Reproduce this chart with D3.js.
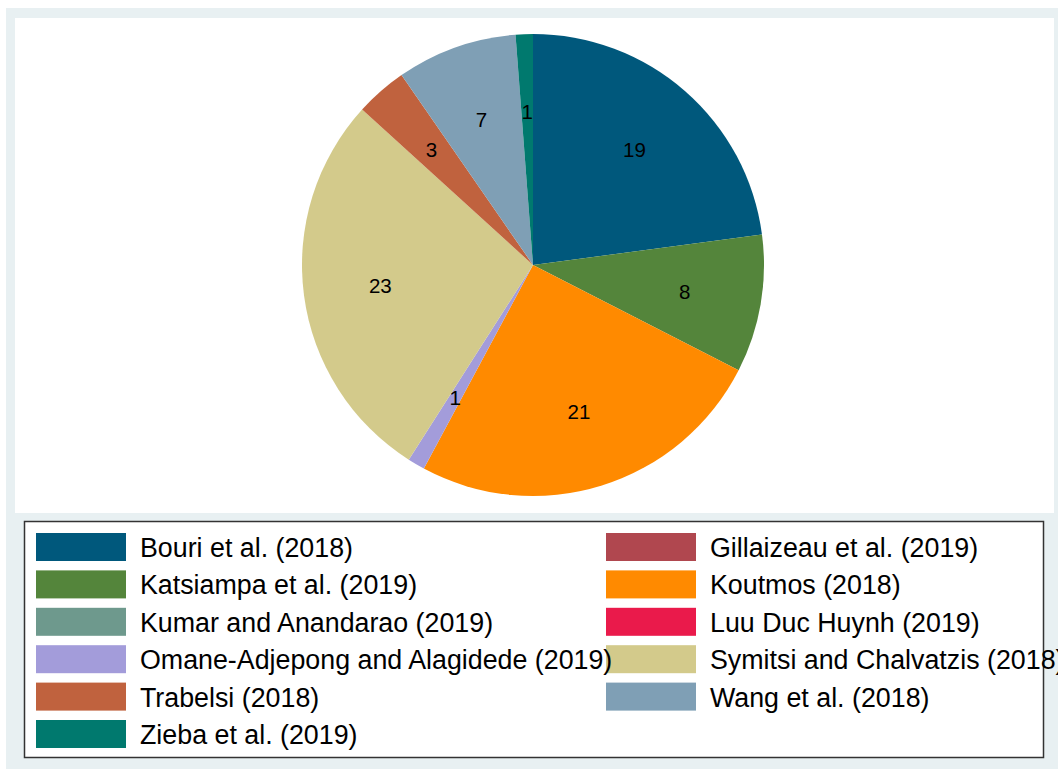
<!DOCTYPE html>
<html>
<head>
<meta charset="utf-8">
<script src="https://cdn.jsdelivr.net/npm/d3@7"></script>
<style>
  body { margin: 0; background: #fff; }
  text { font-family: "Liberation Sans", Arial, sans-serif; }
</style>
</head>
<body>
<svg id="chart"></svg>
<script>
// studies and their counts (zero-count studies still show up in the legend)
let studies = [
    'Bouri et al. (2018)', 'Gillaizeau et al. (2019)', 'Katsiampa et al. (2019)',
    'Koutmos (2018)', 'Kumar and Anandarao (2019)', 'Luu Duc Huynh (2019)',
    'Omane-Adjepong and Alagidede (2019)', 'Symitsi and Chalvatzis (2018)',
    'Trabelsi (2018)', 'Wang et al. (2018)', 'Zieba et al. (2019)'
];
let counts = [19, 0, 8, 21, 0, 0, 1, 23, 3, 7, 1];
let colors = [
    '#00587c', '#b0474f', '#54853b', '#ff8a00', '#6e998d', '#ea1a4b',
    '#a39cda', '#d3ca8b', '#c0623e', '#7f9fb5', '#00796e'
];

let width = 1058,
    height = 769;

let svg = d3.select("svg#chart")
    .attr("width", width)
    .attr("height", height);

// graph region + plot region
svg.append("rect")
    .attr("x", 6).attr("y", 8)
    .attr("width", width - 6).attr("height", height - 8)
    .attr("fill", "#e8f0f2");
svg.append("rect")
    .attr("x", 15).attr("y", 18)
    .attr("width", 1039).attr("height", 495)
    .attr("fill", "#fff");

// pie
let cx = 533, cy = 265, radius = 231;

let data = studies.map((s, i) => ({ name: s, value: counts[i], color: colors[i] }));

let pie = d3.pie()
    .value(d => d.value)
    .sort(null);

let arc = d3.arc().innerRadius(0).outerRadius(radius);
let labelArc = d3.arc().innerRadius(radius * 2 / 3).outerRadius(radius * 2 / 3);

let g = svg.append("g").attr("transform", `translate(${cx}, ${cy})`);

let arcs = pie(data).filter(d => d.data.value > 0);

g.selectAll("path")
    .data(arcs)
    .enter()
    .append("path")
    .attr("d", arc)
    .attr("fill", d => d.data.color);

g.selectAll("text")
    .data(arcs)
    .enter()
    .append("text")
    .attr("transform", d => `translate(${labelArc.centroid(d)})`)
    .attr("text-anchor", "middle")
    .attr("dominant-baseline", "central")
    .attr("font-size", 20.5)
    .attr("fill", "#000")
    .text(d => d.data.value);

// legend
svg.append("rect")
    .attr("x", 24.5).attr("y", 521.5)
    .attr("width", 1019).attr("height", 236)
    .attr("fill", "#fff")
    .attr("stroke", "#333")
    .attr("stroke-width", 1.5);

let colX = d3.scaleOrdinal().domain([0, 1]).range([36, 606]);
let rowY = d3.scaleLinear().domain([0, 5]).range([533, 720]);

let legend = svg.append("g").attr("class", "legend");

let items = legend.selectAll("g")
    .data(data)
    .enter()
    .append("g")
    .attr("transform", (d, i) => `translate(${colX(i % 2)}, ${rowY(Math.floor(i / 2))})`);

items.append("rect")
    .attr("width", 90)
    .attr("height", 28)
    .attr("fill", d => d.color);

items.append("text")
    .attr("x", 104)
    .attr("y", 15)
    .attr("dominant-baseline", "central")
    .attr("font-size", 26.8)
    .attr("fill", "#000")
    .text(d => d.name);

// the long left-column label runs over the right-column swatch
items.filter((d, i) => i % 2 === 0).raise();
</script>
</body>
</html>
